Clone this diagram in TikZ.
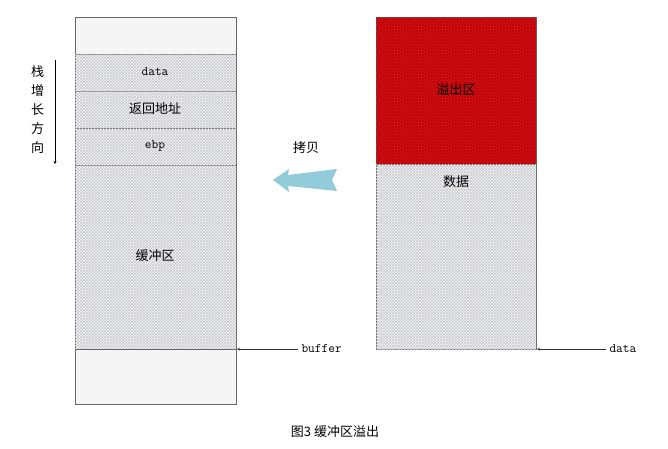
\documentclass[tikz,border=0pt]{standalone}
\usepackage{fontspec}
\newfontfamily\cjk{Noto Sans CJK SC}
\usetikzlibrary{patterns}
\definecolor{copyblue}{RGB}{146,204,218}
\definecolor{ovred}{RGB}{222,20,30}
\tikzset{
  cell/.style={draw=black!60, fill=blue!3, postaction={pattern=crosshatch, pattern color=black!22}},
  plain/.style={draw=black!60, fill=gray!8},
  redcell/.style={draw=black!60, fill=ovred, postaction={pattern=crosshatch, pattern color=red!70!black}},
  lbl/.style={font=\cjk\fontsize{13}{15}\selectfont},
  tt/.style={font=\ttfamily\fontsize{13}{15}\selectfont},
  ptr/.style={->, >=stealth, black!80}
}
\begin{document}
\begin{tikzpicture}[x=1pt,y=-1pt]
\useasboundingbox (0,0) rectangle (668,448);
% stack
\draw[plain] (75,17) rectangle (236,54);
\draw[cell] (75,54) rectangle (236,91);
\draw[cell] (75,91) rectangle (236,128);
\draw[cell] (75,128) rectangle (236,165);
\draw[cell] (75,165) rectangle (236,349);
\draw[plain] (75,349) rectangle (236,404);
\node[tt] (d1) at (155,72) {data};
\node[lbl] (ret) at (155,109) {返回地址};
\node[tt] (ebp) at (155,146) {ebp};
\node[lbl] (buf) at (155,256) {缓冲区};
% growth
\coordinate (g1) at (55,60);
\coordinate (g2) at (55,164);
\draw[->, >=stealth] (g1) -- (g2);
\node[lbl, align=center, inner sep=0pt, text width=1em] (grow) at (36,110) {栈\\[4pt]增\\[4pt]长\\[4pt]方\\[4pt]向};
% source
\draw[redcell] (376,17) rectangle (536,164);
\draw[cell] (376,164) rectangle (536,349);
\node[lbl] (ovf) at (456,90) {溢出区};
\node[lbl] (dat) at (456,182) {数据};
% copy arrow
\node[lbl] (copy) at (306,148) {拷贝};
\fill[copyblue] (273,180) -- (289,169) -- (288,175) -- (337,169) -- (332,180) -- (337,191) -- (288,186) -- (289,192) -- cycle;
% pointers
\node[tt, anchor=west] (bufp) at (298,349) {buffer};
\coordinate (b0) at (237,349);
\draw[ptr] (bufp.west) -- (b0);
\node[tt, anchor=west] (datp) at (606,349) {data};
\coordinate (d0) at (537,349);
\draw[ptr] (datp.west) -- (d0);
\node[lbl] (cap) at (335,432) {图3 缓冲区溢出};
\end{tikzpicture}
\end{document}
